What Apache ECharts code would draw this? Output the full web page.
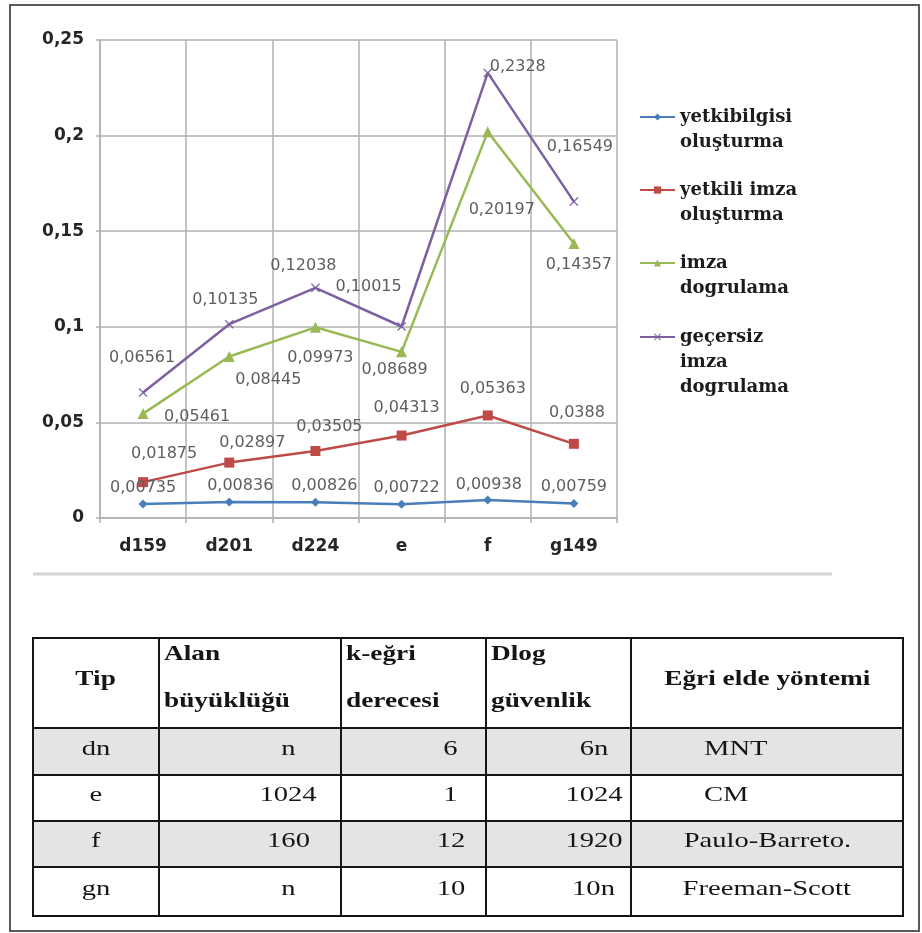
<!DOCTYPE html>
<html>
<head>
<meta charset="utf-8">
<script src="https://cdn.jsdelivr.net/npm/echarts/dist/echarts.min.js"></script>
<style>
  html, body { margin:0; padding:0; background:#fff; }
  #chart { position:absolute; left:0; top:0; width:922px; height:933px; }
  #tbl { position:absolute; left:32px; top:637px; width:870px; border-collapse:collapse; table-layout:fixed;
         font-family:"Liberation Serif","Times New Roman",serif; color:#151515; }
  #tbl td { border:2px solid #151515; padding:0; overflow:visible; white-space:nowrap; }
  #tbl .s { display:inline-block; transform:scaleX(1.3); }
  #tbl tr.head td { font-weight:bold; font-size:21px; line-height:30px; vertical-align:middle; padding-bottom:10px; }
  #tbl tr.head .s { line-height:47px; margin-top:-12px; margin-bottom:-12px; }
  #tbl tr.body td { font-size:22px; line-height:28px; vertical-align:middle; padding-bottom:8px; }
  #tbl tr.shade td { background:#e4e4e4; }
</style>
</head>
<body>
<div id="chart"></div>
<table id="tbl"></table>

<script type="text/javascript">
    // chart data
    var categories = ['d159', 'd201', 'd224', 'e', 'f', 'g149'];
    var yTicks = [0, 0.05, 0.1, 0.15, 0.2, 0.25];
    var yetkiBilgisi = [0.00735, 0.00836, 0.00826, 0.00722, 0.00938, 0.00759];
    var yetkiliImza = [0.01875, 0.02897, 0.03505, 0.04313, 0.05363, 0.0388];
    var imzaDogrulama = [0.05461, 0.08445, 0.09973, 0.08689, 0.20197, 0.14357];
    var gecersizImza = [0.06561, 0.10135, 0.12038, 0.10015, 0.2328, 0.16549];
    var seriesNames = ['yetkibilgisi oluşturma', 'yetkili imza oluşturma', 'imza dogrulama', 'geçersiz imza dogrulama'];
    var legendLines = [['yetkibilgisi', 'oluşturma'], ['yetkili imza', 'oluşturma'], ['imza', 'dogrulama'], ['geçersiz', 'imza', 'dogrulama']];

    // table data
    var tableHead = [['Tip'], ['Alan', 'büyüklüğü'], ['k-eğri', 'derecesi'], ['Dlog', 'güvenlik'], ['Eğri elde yöntemi']];
    var tableRows = [
        ['dn', 'n', '6', '6n', 'MNT'],
        ['e', '1024', '1', '1024', 'CM'],
        ['f', '160', '12', '1920', 'Paulo-Barreto.'],
        ['gn', 'n', '10', '10n', 'Freeman-Scott']
    ];

    // layout bits (label nudges per point, table geometry)
    var blueShift = [[0, -16], [11, -16], [9, -16], [5, -16], [1, -15], [0, -17]];
    var redShift = [[21, -28], [23, -20], [14, -24], [5, -28], [5, -27], [3, -31]];
    var greenShift = [[54, 3], [39, 23], [5, 31], [-7, 18], [14, 78], [5, 21]];
    var purpleShift = [[-1, -35], [-4, -24], [-12, -22], [-33, -40], [30, -6], [6, -55]];
    var legendFirstLineY = [117, 190, 263, 337];
    var colWidths = [126, 182, 145, 145, 272];
    var rowHeights = [90, 47, 46, 46, 49];
    var bodyPadLeft = [0, 76, 74, 70, 0];
    var methodLeft = [true, true, false, false];

    var colors = ['#4a7ebb', '#be4b48', '#98b954', '#7d60a0'];
    var crossPath = 'path://M0,1L1,0L5,4L9,0L10,1L6,5L10,9L9,10L5,6L1,10L0,9L4,5Z';

    function comma(v) {
        return String(+v.toFixed(5)).replace('.', ',');
    }

    function withLabels(values, shifts) {
        var out = [];
        for (var i = 0; i < values.length; i++) {
            out.push({ value: values[i], label: { offset: shifts[i] } });
        }
        return out;
    }

    function makeSeries(idx, values, shifts, symbol, size) {
        return {
            name: seriesNames[idx],
            type: 'line',
            data: withLabels(values, shifts),
            symbol: symbol,
            symbolSize: size,
            showAllSymbol: true,
            color: colors[idx],
            lineStyle: { width: 2.5, color: colors[idx] },
            itemStyle: { color: colors[idx] },
            label: {
                show: true,
                position: 'inside',
                fontFamily: 'DejaVu Sans',
                fontSize: 16,
                color: '#5e5e5e',
                formatter: function (p) { return comma(p.value); }
            },
            emphasis: { disabled: true },
            animation: false
        };
    }

    var legends = [];
    for (var k = 0; k < seriesNames.length; k++) {
        var n = legendLines[k].length;
        legends.push({
            data: [seriesNames[k]],
            left: 639,
            top: legendFirstLineY[k] - (2 * n - 1) * 25 / 2,
            padding: 0,
            itemWidth: 35,
            itemHeight: 9,
            selectedMode: false,
            textStyle: {
                fontFamily: 'DejaVu Serif',
                fontWeight: 'bold',
                fontSize: 18,
                lineHeight: 25,
                color: '#1c1c1c'
            },
            formatter: (function (lines) {
                return function () {
                    var pre = '';
                    for (var j = 1; j < lines.length; j++) pre += '\n';
                    return pre + lines.join('\n');
                };
            })(legendLines[k])
        });
    }

    var gridGray = '#b0b0b0';
    var option = {
        backgroundColor: '#ffffff',
        animation: false,
        grid: { left: 100, right: 305, top: 40, bottom: 415 },
        legend: legends,
        xAxis: {
            type: 'category',
            data: categories,
            boundaryGap: true,
            axisLine: { show: true, lineStyle: { color: gridGray, width: 1.5 } },
            axisTick: { show: true, length: 5, lineStyle: { color: gridGray, width: 1.5 } },
            splitLine: { show: true, lineStyle: { color: gridGray, width: 1.5 } },
            axisLabel: { margin: 20, fontFamily: 'DejaVu Sans', fontWeight: 'bold', fontSize: 17, color: '#262626' }
        },
        yAxis: {
            type: 'value',
            min: yTicks[0],
            max: yTicks[yTicks.length - 1],
            interval: yTicks[1] - yTicks[0],
            axisLine: { show: true, lineStyle: { color: gridGray, width: 1.5 } },
            axisTick: { show: true, length: 4, lineStyle: { color: gridGray, width: 1.5 } },
            splitLine: { show: true, lineStyle: { color: gridGray, width: 1.5 } },
            axisLabel: {
                margin: 16, fontFamily: 'DejaVu Sans', fontWeight: 'bold', fontSize: 17, color: '#262626',
                formatter: function (v) { return comma(v); }
            }
        },
        graphic: [
            { type: 'rect', silent: true, z: -1, shape: { x: 10, y: 5, width: 909, height: 926 },
              style: { fill: 'none', stroke: '#5a5a5a', lineWidth: 2 } },
            { type: 'line', silent: true, shape: { x1: 33, y1: 574, x2: 832, y2: 574 },
              style: { stroke: '#d4d4d4', lineWidth: 3 } }
        ],
        series: [
            makeSeries(0, yetkiBilgisi, blueShift, 'diamond', 9),
            makeSeries(1, yetkiliImza, redShift, 'rect', 10),
            makeSeries(2, imzaDogrulama, greenShift, 'triangle', 11),
            makeSeries(3, gecersizImza, purpleShift, crossPath, 9)
        ]
    };

    var myChart = echarts.init(document.getElementById('chart'));
    myChart.setOption(option);

    // table under the chart
    var tbl = document.getElementById('tbl');
    var html = '<colgroup>';
    for (var c = 0; c < colWidths.length; c++) html += '<col style="width:' + colWidths[c] + 'px">';
    html += '</colgroup>';
    html += '<tr class="head" style="height:' + rowHeights[0] + 'px">';
    for (var c = 0; c < tableHead.length; c++) {
        var multi = tableHead[c].length > 1;
        var align = multi ? 'left' : 'center';
        html += '<td style="text-align:' + align + ';padding-left:' + (multi ? 4 : 0) + 'px">' +
            '<span class="s" style="transform-origin:' + align + ' center">' + tableHead[c].join('<br>') + '</span></td>';
    }
    html += '</tr>';
    for (var r = 0; r < tableRows.length; r++) {
        html += '<tr class="body' + (r % 2 === 0 ? ' shade' : '') + '" style="height:' + rowHeights[r + 1] + 'px">';
        for (var c = 0; c < tableRows[r].length; c++) {
            var al = 'center', pl = bodyPadLeft[c];
            if (c === 4 && methodLeft[r]) { al = 'left'; pl = 72; }
            html += '<td style="text-align:' + al + ';padding-left:' + pl + 'px">' +
                '<span class="s" style="transform-origin:' + al + ' center">' + tableRows[r][c] + '</span></td>';
        }
        html += '</tr>';
    }
    tbl.innerHTML = html;
</script>
</body>
</html>
